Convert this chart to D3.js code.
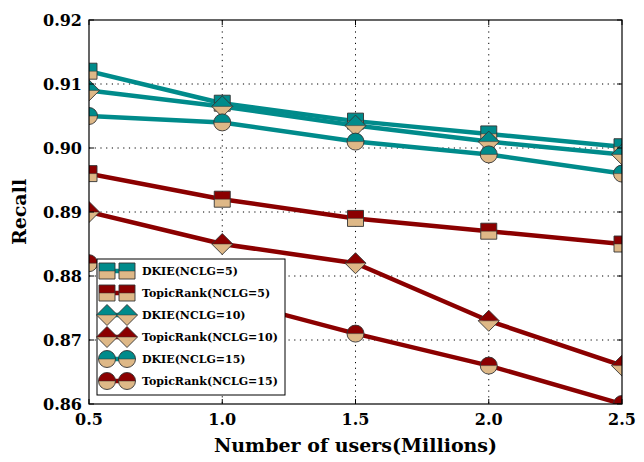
<!DOCTYPE html>
<html>
<head>
<meta charset="utf-8">
<script src="https://cdn.jsdelivr.net/npm/d3@7/dist/d3.min.js"></script>
<style>
  html, body { margin: 0; padding: 0; background: #fff; }
  svg text { font-family: "DejaVu Serif", serif; }
</style>
</head>
<body>
<svg id="chart" width="644" height="462"></svg>
<script>
// Recall vs. number of users
const users = [0.5, 1.0, 1.5, 2.0, 2.5];
const xTicks = [0.5, 1.0, 1.5, 2.0, 2.5];
const yTicks = [0.86, 0.87, 0.88, 0.89, 0.90, 0.91, 0.92];

const dkie5  = [0.912, 0.907, 0.9042, 0.9022, 0.9002];
const topic5 = [0.896, 0.892, 0.889, 0.887, 0.885];
const dkie10 = [0.909, 0.9065, 0.9035, 0.901, 0.899];
const topic10 = [0.890, 0.885, 0.882, 0.873, 0.866];
const dkie15 = [0.905, 0.904, 0.901, 0.899, 0.896];
const topic15 = [0.882, 0.8765, 0.871, 0.866, 0.860];

const seriesNames = ["DKIE(NCLG=5)", "TopicRank(NCLG=5)", "DKIE(NCLG=10)",
                     "TopicRank(NCLG=10)", "DKIE(NCLG=15)", "TopicRank(NCLG=15)"];
const seriesValues = [dkie5, topic5, dkie10, topic10, dkie15, topic15];
const seriesMarkers = ["square", "square", "diamond", "diamond", "circle", "circle"];

const TEAL = "#008b8b", RED = "#8b0000", TAN = "#deb887";
const seriesColors = [TEAL, RED, TEAL, RED, TEAL, RED];

const svg = d3.select("#chart");
const m = { left: 89, right: 622, top: 20, bottom: 404 };

const x = d3.scaleLinear().domain([0.5, 2.5]).range([m.left, m.right]);
const y = d3.scaleLinear().domain([0.86, 0.92]).range([m.bottom, m.top]);

svg.append("defs").append("clipPath").attr("id", "plotclip")
  .append("rect").attr("x", m.left).attr("y", m.top)
  .attr("width", m.right - m.left).attr("height", m.bottom - m.top);

// dotted grid
const grid = svg.append("g");
grid.selectAll("line.gx").data(xTicks.slice(1, -1)).join("line")
  .attr("x1", d => x(d)).attr("x2", d => x(d))
  .attr("y1", m.top).attr("y2", m.bottom)
  .attr("stroke", "#000").attr("stroke-width", 1).attr("stroke-dasharray", "1.2,4.5");
grid.selectAll("line.gy").data(yTicks.slice(1, -1)).join("line")
  .attr("y1", d => y(d)).attr("y2", d => y(d))
  .attr("x1", m.left).attr("x2", m.right)
  .attr("stroke", "#000").attr("stroke-width", 1).attr("stroke-dasharray", "1.2,4.5");

// half-filled marker: top half in series colour, bottom half tan
function drawMarker(g, kind, cx, cy, color) {
  const mk = g.append("g").attr("transform", `translate(${cx},${cy})`);
  let top, bottom, outline;
  if (kind === "square") {
    const h = 8;
    top = `M${-h},${-h}H${h}V0H${-h}Z`;
    bottom = `M${-h},0H${h}V${h}H${-h}Z`;
    outline = `M${-h},${-h}H${h}V${h}H${-h}Z`;
  } else if (kind === "diamond") {
    const w = 10.5, hh = 10.5;
    top = `M${-w},0L0,${-hh}L${w},0Z`;
    bottom = `M${-w},0L0,${hh}L${w},0Z`;
    outline = `M${-w},0L0,${-hh}L${w},0L0,${hh}Z`;
  } else {
    const r = 8.5;
    top = `M${-r},0A${r},${r} 0 0 1 ${r},0Z`;
    bottom = `M${-r},0A${r},${r} 0 0 0 ${r},0Z`;
    outline = `M${-r},0A${r},${r} 0 1 1 ${r},0A${r},${r} 0 1 1 ${-r},0Z`;
  }
  mk.append("path").attr("d", top).attr("fill", color);
  mk.append("path").attr("d", bottom).attr("fill", TAN);
  mk.append("path").attr("d", outline).attr("fill", "none")
    .attr("stroke", "#333").attr("stroke-width", 0.9);
  mk.append("line").attr("x1", kind === "diamond" ? -10.5 : kind === "square" ? -8 : -8.5)
    .attr("x2", kind === "diamond" ? 10.5 : kind === "square" ? 8 : 8.5)
    .attr("stroke", "#333").attr("stroke-width", 0.5);
}

// series lines with markers
const plot = svg.append("g").attr("clip-path", "url(#plotclip)");
const line = d3.line().x((d, i) => x(users[i])).y(d => y(d));
seriesValues.forEach((vals, s) => {
  const g = plot.append("g");
  g.append("path").datum(vals).attr("d", line)
    .attr("fill", "none").attr("stroke", seriesColors[s])
    .attr("stroke-width", 4.5).attr("stroke-linejoin", "round");
  vals.forEach((v, i) => drawMarker(g, seriesMarkers[s], x(users[i]), y(v), seriesColors[s]));
});

// frame
svg.append("rect").attr("x", m.left).attr("y", m.top)
  .attr("width", m.right - m.left).attr("height", m.bottom - m.top)
  .attr("fill", "none").attr("stroke", "#000").attr("stroke-width", 1.2);

// inward ticks on all four sides
const tl = 5;
const ticks = svg.append("g").attr("stroke", "#000").attr("stroke-width", 1);
xTicks.forEach(t => {
  ticks.append("line").attr("x1", x(t)).attr("x2", x(t)).attr("y1", m.bottom).attr("y2", m.bottom - tl);
  ticks.append("line").attr("x1", x(t)).attr("x2", x(t)).attr("y1", m.top).attr("y2", m.top + tl);
});
yTicks.forEach(t => {
  ticks.append("line").attr("y1", y(t)).attr("y2", y(t)).attr("x1", m.left).attr("x2", m.left + tl);
  ticks.append("line").attr("y1", y(t)).attr("y2", y(t)).attr("x1", m.right).attr("x2", m.right - tl);
});

// tick labels
svg.append("g").selectAll("text").data(xTicks).join("text")
  .attr("x", d => x(d)).attr("y", 425).attr("text-anchor", "middle")
  .attr("font-size", 16).attr("font-weight", "bold").text(d => d.toFixed(1));
svg.append("g").selectAll("text").data(yTicks).join("text")
  .attr("x", 82).attr("y", d => y(d) + 6).attr("text-anchor", "end")
  .attr("font-size", 16).attr("font-weight", "bold").text(d => d.toFixed(2));

// axis titles
svg.append("text").attr("x", (m.left + m.right) / 2).attr("y", 452)
  .attr("text-anchor", "middle").attr("font-size", 19).attr("font-weight", "bold")
  .text("Number of users(Millions)");
svg.append("text").attr("transform", `translate(26,${(m.top + m.bottom) / 2}) rotate(-90)`)
  .attr("text-anchor", "middle").attr("font-size", 19).attr("font-weight", "bold")
  .text("Recall");

// legend
const lg = svg.append("g");
lg.append("rect").attr("x", 97).attr("y", 259).attr("width", 188).attr("height", 136)
  .attr("fill", "#fff").attr("stroke", "#000").attr("stroke-width", 1);
seriesNames.forEach((name, s) => {
  const cy = 271 + s * 22;
  lg.append("line").attr("x1", 107).attr("x2", 127).attr("y1", cy).attr("y2", cy)
    .attr("stroke", seriesColors[s]).attr("stroke-width", 4.5);
  drawMarker(lg, seriesMarkers[s], 107, cy, seriesColors[s]);
  drawMarker(lg, seriesMarkers[s], 127, cy, seriesColors[s]);
  lg.append("text").attr("x", 142).attr("y", cy + 4).attr("font-size", 11)
    .attr("font-weight", "bold").text(name);
});
</script>
</body>
</html>
